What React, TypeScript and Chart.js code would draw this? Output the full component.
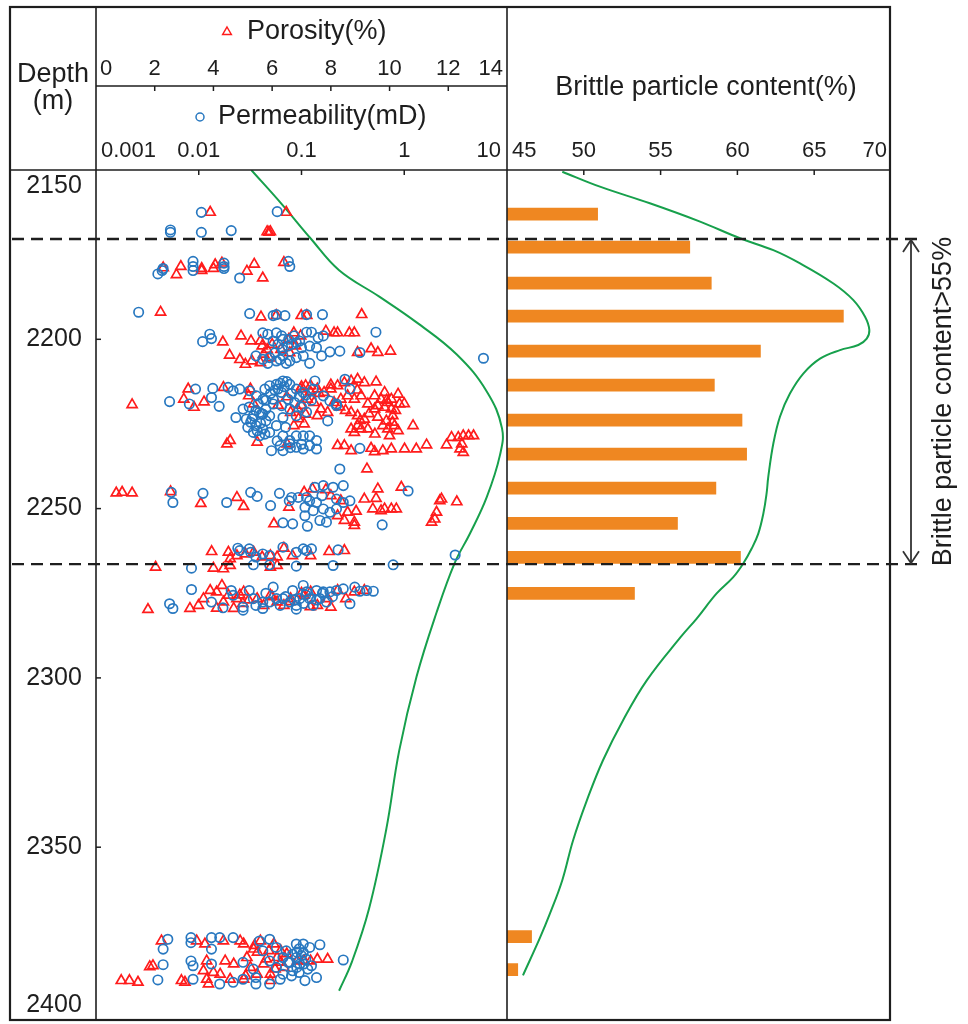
import React, { useEffect, useRef } from "react";
import { Chart, registerables } from "chart.js";

Chart.register(...registerables);

// ---------------- data ----------------
const depthTicks = [2150, 2200, 2250, 2300, 2350, 2400];
const porosityTicks = [0, 2, 4, 6, 8, 10, 12, 14];
const permeabilityTicks = [0.001, 0.01, 0.1, 1, 10];
const permeabilityTickLabels = ["0.001", "0.01", "0.1", "1", "10"];
const brittleTicks = [45, 50, 55, 60, 65, 70];

const brittleDepths = [2163, 2172.7, 2183.3, 2193, 2203.3, 2213.3, 2223.6, 2233.6, 2243.6, 2254, 2264, 2274.6, 2375.6, 2385.3];
const brittleValues = [50.9, 56.9, 58.3, 66.9, 61.5, 58.5, 60.3, 60.6, 58.6, 56.1, 60.2, 53.3, 46.6, 45.7];

const brittleTrendDepths = [2150.5, 2154.9, 2159.8, 2165.2, 2170.1, 2173.6, 2177.5, 2183.4, 2188.3, 2193.2, 2197.1, 2199.6, 2201.5, 2203, 2205.5, 2209.9, 2215.8, 2222.6, 2230.5, 2240.3, 2245.2, 2251.1, 2257, 2261.4, 2265.8, 2269.8, 2274.6, 2282, 2287.5, 2300.2, 2312, 2323.7, 2335.5, 2347.3, 2359, 2368.8, 2375.9, 2387];
const brittleTrendValues = [48.6, 51.05, 54.3, 57.57, 60.17, 62.34, 64.08, 66.25, 67.55, 68.31, 68.59, 68.42, 67.87, 66.68, 65.38, 64.29, 63.42, 62.77, 62.34, 62.01, 61.9, 61.69, 61.36, 60.93, 60.38, 59.73, 58.65, 57.35, 56.3, 54.1, 52.55, 51.25, 50.2, 49.3, 48.6, 47.8, 47.15, 46.04];

const porosityTrendDepths = [2150, 2160, 2170.3, 2179.6, 2187.4, 2195, 2204.5, 2215.4, 2226.3, 2234.2, 2246.6, 2257.5, 2266, 2280.7, 2299.6, 2321.4, 2344.6, 2368.2, 2383.8, 2392.4];
const porosityTrendValues = [5.29, 6.32, 7.32, 8.28, 9.65, 10.92, 12.29, 13.31, 13.83, 13.76, 13.31, 12.73, 12.22, 11.6, 10.92, 10.33, 9.89, 9.3, 8.72, 8.28];

const boundaryDepths = [2170.3, 2266];

// [depth (m), permeability (mD)]
const permeabilityPoints: [number, number][] = [
  [2162.5,0.0106],[2162.3,0.058],[2167.7,0.0053],[2168.4,0.0053],[2168.4,0.0106],[2167.9,0.0207],[2177.0,0.0088],[2178.5,0.0088],[2179.7,0.0088],[2179.1,0.0045],[2180.7,0.004],[2177.5,0.0176],[2178.5,0.0176],[2179.1,0.0176],[2181.9,0.025],[2177.0,0.0745],[2178.5,0.0769],[2179.7,0.0044],
  [2192.0,0.0026],[2192.4,0.0313],[2193.0,0.053],[2192.7,0.057],[2193.0,0.069],[2192.7,0.112],[2192.7,0.16],
  [2198.5,0.0128],[2200.7,0.0109],[2199.8,0.0133],[2198.1,0.042],[2198.5,0.047],[2198.1,0.057],[2199.0,0.064],[2200.5,0.053],[2201.5,0.059],[2200.0,0.066],[2202.0,0.074],[2201.0,0.089],[2200.5,0.096],[2197.9,0.112],[2197.9,0.125],[2199.5,0.145],[2199.0,0.163],[2202.0,0.12],[2202.5,0.14],[2203.7,0.189],[2203.5,0.236],[2203.9,0.37],[2197.9,0.53],
  [2204.9,0.036],[2205.9,0.042],[2205.4,0.049],[2206.4,0.057],[2204.9,0.066],[2206.4,0.077],[2205.4,0.089],[2204.9,0.104],[2207.1,0.12],[2204.9,0.157],[2207.1,0.047],[2207.1,0.071],
  [2205.6,5.9],
  [2218.4,0.0052],[2214.7,0.0093],[2214.5,0.0137],[2217.2,0.0133],[2219.8,0.0158],[2219.1,0.0081],[2214.2,0.0193],[2215.2,0.0216],[2214.7,0.025],[2215.2,0.0313],[2216.7,0.0364],[2217.7,0.0423],[2213.7,0.049],[2213.3,0.057],[2212.3,0.066],[2213.3,0.077],[2214.7,0.089],[2215.7,0.104],[2215.7,0.064],[2217.7,0.074],[2218.7,0.086],[2219.1,0.053],[2220.6,0.045],[2221.6,0.039],[2222.6,0.034],[2223.6,0.029],[2223.1,0.023],[2220.6,0.027],[2224.5,0.032],[2225.5,0.036],[2226.5,0.042],[2227.5,0.049],[2227.5,0.034],[2228.5,0.039],[2224.1,0.045],[2225.5,0.057],[2228.5,0.066],[2229.9,0.077],[2228.5,0.089],[2228.5,0.104],[2228.5,0.12],[2229.9,0.14],[2231.4,0.12],[2232.4,0.104],[2231.9,0.089],[2230.9,0.077],[2231.4,0.062],[2232.9,0.051],[2232.9,0.066],[2232.4,0.14],[2214.7,0.13],[2212.3,0.135],[2216.7,0.163],[2218.2,0.189],[2219.1,0.219],[2211.8,0.265],[2214.7,0.296],[2224.1,0.18],[2219.6,0.219],[2232.2,0.37],[2222.6,0.089],[2223.1,0.066],[2222.6,0.049],[2222.1,0.042],[2217.7,0.053],[2219.6,0.064],[2220.6,0.077],[2214.7,0.059],[2214.7,0.044],
  [2220.0,0.031],[2221.0,0.036],[2222.0,0.041],[2223.5,0.033],[2224.8,0.04],[2226.0,0.03],[2227.0,0.037],[2228.0,0.044],[2219.0,0.038],[2218.0,0.045],[2216.0,0.05],[2215.0,0.055],[2213.0,0.062],[2212.5,0.072],[2214.0,0.068],[2216.0,0.08],[2217.0,0.095],[2216.5,0.11],[2218.0,0.125],[2220.0,0.1],[2221.5,0.112],[2226.0,0.07],[2230.0,0.058],[2231.0,0.1],[2232.0,0.078],[2200.0,0.075],[2201.5,0.08],[2199.0,0.085],[2202.5,0.1],[2203.0,0.065],[2204.0,0.055],[2206.0,0.062],
  [2238.3,0.236],[2245.2,0.0054],[2248.2,0.0056],[2245.5,0.011],[2248.2,0.0187],[2245.2,0.032],[2246.4,0.037],[2249.1,0.05],[2245.5,0.061],[2254.2,0.066],[2246.7,0.08],[2247.7,0.076],[2246.7,0.093],[2246.7,0.112],[2243.7,0.135],[2243.2,0.163],[2243.7,0.203],[2243.2,0.255],[2247.7,0.12],[2248.2,0.14],[2250.1,0.163],[2251.1,0.189],[2250.1,0.219],[2249.6,0.108],[2250.6,0.13],[2253.5,0.151],[2254.0,0.175],[2255.2,0.114],[2254.5,0.082],[2252.1,0.108],[2247.2,0.219],[2248.2,0.255],[2247.7,0.296],[2254.8,0.61],[2244.8,1.09],[2246.2,0.158],
  [2261.7,0.024],[2262.4,0.025],[2261.9,0.031],[2262.9,0.032],[2264.3,0.036],[2263.4,0.042],[2263.9,0.049],[2261.4,0.066],[2262.9,0.089],[2261.9,0.104],[2262.4,0.112],[2261.9,0.125],[2262.2,0.227],[2266.6,0.78],[2263.7,3.13],[2267.6,0.0085],[2266.6,0.034],[2267.0,0.089],[2266.8,0.203],[2266.6,0.049],
  [2273.9,0.0085],[2277.6,0.0133],[2274.2,0.0207],[2275.6,0.0216],[2274.2,0.031],[2276.6,0.034],[2279.1,0.027],[2278.6,0.036],[2277.6,0.042],[2277.6,0.049],[2273.2,0.053],[2276.6,0.057],[2278.6,0.062],[2276.6,0.066],[2277.6,0.077],[2274.2,0.082],[2278.6,0.089],[2276.6,0.096],[2272.7,0.104],[2274.6,0.112],[2276.6,0.12],[2278.6,0.13],[2274.2,0.14],[2276.6,0.151],[2274.6,0.163],[2277.6,0.175],[2274.6,0.189],[2274.2,0.219],[2273.7,0.255],[2278.1,0.296],[2273.2,0.33],[2274.4,0.37],[2274.2,0.43],[2274.4,0.5],[2278.1,0.0052],[2279.5,0.0056],[2279.3,0.0172],[2280.0,0.027],[2279.5,0.042],[2279.7,0.089],
  [2275.0,0.045],[2276.0,0.07],[2277.0,0.085],[2275.5,0.11],[2277.0,0.14],[2278.0,0.105],[2275.0,0.16],[2276.0,0.2],
  [2377.2,0.005],[2380.1,0.0045],[2384.7,0.0045],[2389.2,0.004],[2376.7,0.0084],[2378.2,0.0084],[2383.6,0.0084],[2385.0,0.0088],[2389.0,0.0088],[2376.7,0.0133],[2380.1,0.0133],[2384.5,0.0133],[2376.7,0.016],[2376.7,0.0216],[2384.0,0.027],[2389.0,0.027],[2386.0,0.034],[2388.5,0.036],[2377.7,0.039],[2380.6,0.042],[2383.6,0.049],[2377.2,0.049],[2379.6,0.057],[2385.5,0.057],[2382.6,0.066],[2387.5,0.066],[2380.6,0.071],[2384.0,0.077],[2386.5,0.082],[2378.6,0.089],[2382.6,0.089],[2384.5,0.096],[2381.1,0.104],[2378.6,0.104],[2379.6,0.12],[2388.5,0.14],[2378.8,0.151],[2383.3,0.255],[2390.4,0.049],[2390.4,0.036],[2390.4,0.016],[2389.9,0.0216],[2389.0,0.062],[2389.4,0.108],[2384.0,0.074],[2381.6,0.082],
  [2381.0,0.09],[2382.0,0.1],[2383.0,0.11],[2384.5,0.105],[2385.5,0.09],[2386.0,0.115],[2387.0,0.095],[2380.0,0.095],[2385.0,0.125],[2388.0,0.08],
];

// [depth (m), porosity (%)]
const porosityPoints: [number, number][] = [
  [2162.5,3.89],[2162.5,6.48],[2168.2,5.83],[2168.4,5.89],[2168.2,5.94],[2178.5,2.89],[2180.9,2.74],[2179.1,3.6],[2179.7,3.6],[2179.1,4.0],[2178.0,4.06],[2177.5,4.29],[2177.8,5.39],[2179.9,5.14],[2181.9,5.68],[2177.3,6.4],[2178.9,2.29],
  [2192.0,2.2],[2193.4,5.62],[2193.0,6.14],[2193.0,6.99],[2193.0,7.18],[2192.7,9.05],
  [2199.0,4.94],[2200.8,4.32],[2200.5,5.28],[2204.7,4.55],[2207.4,5.09],[2206.4,5.31],[2206.9,5.6],[2202.0,5.66],[2203.0,5.83],[2198.1,6.74],[2200.0,6.57],[2199.0,6.97],[2197.6,7.83],[2198.1,8.11],[2198.1,8.23],[2198.1,8.63],[2198.1,8.8],[2202.8,9.37],[2203.9,9.6],[2203.5,10.03],[2203.9,8.91],[2204.4,5.71],
  [2200.5,5.6],[2201.5,6.0],[2203.0,6.3],[2205.5,5.9],[2202.0,6.8],[2204.0,6.6],[2206.0,4.9],
  [2219.3,1.23],[2214.7,3.14],[2220.1,3.34],[2217.7,2.99],[2218.5,3.68],[2214.2,4.34],[2216.7,5.2],[2219.1,5.37],[2214.7,5.26],[2214.7,6.97],[2213.7,7.14],[2213.7,7.31],[2214.7,7.54],[2215.7,7.77],[2214.7,8.0],[2213.7,8.23],[2212.8,8.46],[2212.3,8.69],[2211.8,8.91],[2212.8,9.14],[2212.6,9.54],
  [2217.7,7.2],[2218.7,7.43],[2220.6,7.66],[2221.6,7.89],[2222.6,7.54],[2218.7,8.11],[2217.7,8.34],[2216.7,8.57],[2217.7,8.8],[2216.7,9.03],[2219.1,9.26],[2216.7,9.49],[2217.7,9.71],[2215.7,9.83],[2218.7,9.94],[2217.7,10.06],[2216.2,10.29],[2219.1,10.34],[2219.6,9.6],[2220.1,9.83],[2220.6,10.06],[2222.6,10.11],[2221.6,8.69],[2222.6,8.91],[2223.6,9.14],[2225.5,8.91],[2226.5,8.69],[2226.5,9.03],[2227.5,8.8],[2226.5,9.26],[2220.6,9.49],[2225.5,9.77],[2226.5,9.94],[2225.5,10.17],[2227.0,10.29],[2225.5,10.8],[2224.1,9.89],
  [2214.0,7.0],[2215.5,7.3],[2216.0,7.6],[2219.5,7.0],[2220.0,8.3],[2221.0,8.5],[2222.0,9.3],[2223.0,9.6],[2224.0,9.0],[2218.0,9.9],[2219.0,10.5],[2221.0,10.2],[2215.0,8.9],[2213.5,8.0],[2224.5,10.1],[2228.0,9.5],[2228.5,10.0],[2217.0,6.5],[2219.5,6.2],[2223.5,6.9],
  [2221.6,6.63],[2220.6,6.86],[2222.1,7.14],[2225.0,7.09],[2225.5,6.74],[2230.4,5.49],[2230.9,4.46],[2229.9,4.57],[2230.9,6.51],[2231.4,8.23],[2231.4,8.46],[2232.9,8.69],[2232.2,9.37],[2233.2,9.49],[2232.9,9.77],[2232.4,10.06],[2232.4,10.51],[2232.4,10.91],[2231.2,11.26],[2231.2,11.94],[2229.0,12.11],[2229.0,12.34],[2228.5,12.51],[2228.5,12.69],[2228.5,12.86],[2232.4,12.4],[2233.4,12.51],[2230.9,12.46],
  [2238.3,9.23],[2245.4,0.69],[2245.2,0.89],[2245.4,1.23],[2245.0,2.54],[2248.5,3.57],[2246.7,4.8],[2249.4,5.03],[2254.5,6.06],[2249.6,6.57],[2245.2,7.09],[2244.2,7.37],[2244.4,7.83],[2246.2,8.0],[2247.7,8.34],[2253.5,8.46],[2255.0,8.8],[2254.0,8.8],[2252.1,8.23],[2251.1,8.57],[2250.8,8.86],[2247.2,9.14],[2250.1,9.43],[2247.0,9.54],[2244.2,9.6],[2250.6,9.71],[2250.1,9.83],[2250.1,10.06],[2250.1,10.23],[2243.7,10.4],[2254.0,11.43],[2253.1,11.54],[2251.1,11.6],[2247.7,11.71],[2247.2,11.77],[2248.0,12.29],
  [2262.7,3.94],[2262.9,4.51],[2264.8,4.57],[2263.9,4.8],[2263.4,5.09],[2262.9,5.37],[2264.3,5.66],[2263.9,5.94],[2264.3,6.17],[2261.7,6.4],[2263.9,6.69],[2263.9,7.31],[2262.7,7.94],[2262.4,8.46],[2267.3,2.03],[2267.6,4.0],[2267.8,4.34],[2266.8,4.57],[2267.3,5.94],[2266.8,6.17],
  [2279.8,1.77],[2279.5,3.2],[2278.6,3.49],[2276.6,3.66],[2274.2,3.89],[2274.6,4.11],[2272.7,4.29],[2277.6,4.34],[2275.6,4.51],[2279.4,4.11],[2279.5,4.69],[2276.6,4.8],[2274.6,5.03],[2276.6,5.49],[2278.6,5.71],[2275.6,5.94],[2277.6,6.17],[2278.6,6.4],[2276.6,6.63],[2275.6,7.09],[2274.6,7.31],[2278.6,7.54],[2276.6,7.89],[2279.1,8.0],[2274.2,8.23],[2276.6,8.51],[2274.6,8.8],[2274.2,9.14],
  [2275.5,4.9],[2277.0,5.2],[2278.0,5.0],[2276.0,6.0],[2277.5,6.6],[2275.0,7.0],[2279.0,7.3],
  [2377.7,2.23],[2385.3,1.83],[2385.0,1.94],[2389.4,0.86],[2389.4,1.14],[2389.9,1.43],[2389.4,2.91],[2389.9,3.03],[2377.7,3.43],[2378.6,3.71],[2383.6,3.77],[2386.5,3.66],[2389.0,3.77],[2390.4,3.83],[2387.0,4.0],[2387.5,4.23],[2377.7,4.34],[2383.6,4.4],[2389.0,4.57],[2384.5,4.69],[2377.7,4.91],[2378.6,5.03],[2382.6,5.14],[2385.5,5.26],[2387.5,5.49],[2377.7,5.6],[2384.5,5.71],[2380.6,5.89],[2387.5,5.94],[2378.6,6.06],[2382.6,6.17],[2380.6,6.29],[2385.5,6.4],[2389.4,5.94],[2389.0,5.03],[2383.6,6.86],[2383.6,7.09],[2383.6,7.31],[2383.1,7.54],[2383.1,7.89],[2380.1,5.37],
  [2381.0,5.5],[2383.0,5.8],[2386.0,6.1],[2384.0,6.3],[2381.5,6.5],[2379.0,5.4],[2388.0,5.1],
];

// ---------------- layout & style ----------------
const W = 968;
const H = 1024;
const FRAME = { left: 10, top: 7, right: 890, bottom: 1020 };
const DEPTH_COL_RIGHT = 96;
const PANEL_SPLIT = 507;
const RIGHT_PANEL_RIGHT = 891;
const PLOT_TOP = 170;
const PLOT_BOTTOM = 1019.5;
const HEADER_SPLIT_Y = 86;

const INK = "#1e1e1e";
const RED = "#ff1c1c";
const BLUE = "#2878c0";
const GREEN = "#17a04c";
const ORANGE = "#ef8721";
const FONT = "'Liberation Sans', Arial, Helvetica, sans-serif";
const TITLE_FONT = `27px ${FONT}`;
const TICK_FONT = `22px ${FONT}`;
const DEPTH_FONT = `25px ${FONT}`;

function seg(ctx: CanvasRenderingContext2D, x1: number, y1: number, x2: number, y2: number) {
  ctx.beginPath();
  ctx.moveTo(x1, y1);
  ctx.lineTo(x2, y2);
  ctx.stroke();
}

function clampedLabel(ctx: CanvasRenderingContext2D, text: string, cx: number, cy: number, lo: number, hi: number) {
  const w = ctx.measureText(text).width;
  const x = Math.min(Math.max(cx, lo + w / 2), hi - w / 2);
  ctx.textAlign = "center";
  ctx.fillText(text, x, cy);
}

const leftDecor = {
  id: "leftDecor",
  afterDraw(chart: any) {
    const { ctx, chartArea: a, scales } = chart;
    const xPor = scales.xPor;
    const xPerm = scales.xPerm;
    const y = scales.y;
    ctx.save();
    ctx.strokeStyle = INK;
    ctx.fillStyle = INK;
    ctx.lineWidth = 1.5;
    seg(ctx, a.left, HEADER_SPLIT_Y, a.right, HEADER_SPLIT_Y);

    ctx.textBaseline = "middle";
    ctx.font = TICK_FONT;
    porosityTicks.forEach((v) => {
      const px = xPor.getPixelForValue(v);
      if (px > a.left + 4 && px < a.right - 4) seg(ctx, px, HEADER_SPLIT_Y, px, HEADER_SPLIT_Y + 5);
      clampedLabel(ctx, String(v), px, 69, a.left + 4, a.right - 4);
    });
    permeabilityTicks.forEach((v, i) => {
      const px = xPerm.getPixelForValue(v);
      if (px > a.left + 4 && px < a.right - 4) seg(ctx, px, a.top, px, a.top + 5);
      clampedLabel(ctx, permeabilityTickLabels[i], px, 151, a.left + 5, a.right - 6);
    });
    ctx.font = DEPTH_FONT;
    depthTicks.forEach((v) => {
      const py = y.getPixelForValue(v);
      if (py > a.top + 4 && py < a.bottom - 4) seg(ctx, a.left, py, a.left + 5, py);
      const cy = Math.min(Math.max(py, a.top + 16), a.bottom - 11);
      ctx.textAlign = "center";
      ctx.fillText(String(v), 54, cy);
    });

    ctx.font = TITLE_FONT;
    ctx.textAlign = "center";
    ctx.fillText("Depth", 53, 75);
    ctx.fillText("(m)", 53, 102);
    ctx.textAlign = "left";
    ctx.fillText("Porosity(%)", 247, 32);
    ctx.fillText("Permeability(mD)", 218, 117);

    ctx.lineWidth = 1.5;
    ctx.strokeStyle = RED;
    ctx.beginPath();
    const tx = 227, ty = 32, tr = 5;
    ctx.moveTo(tx, ty - tr);
    ctx.lineTo(tx + tr * 0.866, ty + tr * 0.5);
    ctx.lineTo(tx - tr * 0.866, ty + tr * 0.5);
    ctx.closePath();
    ctx.stroke();
    ctx.strokeStyle = BLUE;
    ctx.beginPath();
    ctx.arc(200, 117, 4, 0, Math.PI * 2);
    ctx.stroke();
    ctx.restore();
  },
};

const rightDecor = {
  id: "rightDecor",
  afterDraw(chart: any) {
    const { ctx, chartArea: a, scales } = chart;
    const x = scales.x;
    const y = scales.y;
    ctx.save();
    ctx.strokeStyle = INK;
    ctx.fillStyle = INK;
    ctx.textBaseline = "middle";

    ctx.lineWidth = 1.5;
    ctx.font = TICK_FONT;
    brittleTicks.forEach((v) => {
      const px = x.getPixelForValue(v);
      if (px > a.left + 4 && px < a.right - 4) seg(ctx, px, a.top, px, a.top + 5);
      clampedLabel(ctx, String(v), px, 151, a.left + 5, a.right - 4);
    });
    ctx.font = TITLE_FONT;
    ctx.textAlign = "center";
    ctx.fillText("Brittle particle content(%)", 706, 88);

    ctx.lineWidth = 1.6;
    seg(ctx, FRAME.left, PLOT_TOP, FRAME.right, PLOT_TOP);
    seg(ctx, DEPTH_COL_RIGHT, FRAME.top, DEPTH_COL_RIGHT, FRAME.bottom);
    seg(ctx, PANEL_SPLIT, FRAME.top, PANEL_SPLIT, FRAME.bottom);
    ctx.lineWidth = 2.2;
    ctx.strokeRect(FRAME.left, FRAME.top, FRAME.right - FRAME.left, FRAME.bottom - FRAME.top);

    ctx.lineWidth = 2.4;
    ctx.setLineDash([12, 7]);
    boundaryDepths.forEach((d) => {
      const py = y.getPixelForValue(d);
      seg(ctx, 12, py, 918, py);
    });
    ctx.setLineDash([]);

    const ax = 911;
    const y1 = y.getPixelForValue(boundaryDepths[0]);
    const y2 = y.getPixelForValue(boundaryDepths[1]);
    ctx.lineWidth = 1.8;
    ctx.strokeStyle = "#333";
    seg(ctx, ax, y1 + 1, ax, y2 - 1);
    ctx.beginPath();
    ctx.moveTo(ax - 8, y1 + 13);
    ctx.lineTo(ax, y1 + 1);
    ctx.lineTo(ax + 8, y1 + 13);
    ctx.stroke();
    ctx.beginPath();
    ctx.moveTo(ax - 8, y2 - 13);
    ctx.lineTo(ax, y2 - 1);
    ctx.lineTo(ax + 8, y2 - 13);
    ctx.stroke();

    ctx.save();
    ctx.translate(944, (y1 + y2) / 2);
    ctx.rotate(-Math.PI / 2);
    ctx.font = TITLE_FONT;
    ctx.fillStyle = INK;
    ctx.textAlign = "center";
    ctx.textBaseline = "middle";
    ctx.fillText("Brittle particle content>55%", 0, 0);
    ctx.restore();

    ctx.restore();
  },
};

export default function App() {
  const leftRef = useRef<HTMLCanvasElement>(null);
  const rightRef = useRef<HTMLCanvasElement>(null);

  useEffect(() => {
    const depthScale = {
      type: "linear" as const,
      min: 2150,
      max: 2400,
      reverse: true,
      display: false,
      offset: false,
    };

    const left = new Chart(leftRef.current!, {
      type: "scatter",
      data: {
        datasets: [
          {
            type: "scatter",
            label: "Permeability(mD)",
            data: permeabilityPoints.map(([d, k]) => ({ x: k, y: d })),
            xAxisID: "xPerm",
            yAxisID: "y",
            pointStyle: "circle",
            pointRadius: 4.7,
            pointBorderWidth: 1.7,
            pointBorderColor: BLUE,
            pointBackgroundColor: "rgba(0,0,0,0)",
          } as any,
          {
            type: "scatter",
            label: "Porosity(%)",
            data: porosityPoints.map(([d, p]) => ({ x: p, y: d })),
            xAxisID: "xPor",
            yAxisID: "y",
            pointStyle: "triangle",
            pointRadius: 5.8,
            pointBorderWidth: 1.7,
            pointBorderColor: RED,
            pointBackgroundColor: "rgba(0,0,0,0)",
          } as any,
          {
            type: "line",
            label: "trend",
            indexAxis: "y",
            data: porosityTrendDepths.map((d, i) => ({ x: porosityTrendValues[i], y: d })),
            xAxisID: "xPor",
            yAxisID: "y",
            borderColor: GREEN,
            borderWidth: 2,
            pointRadius: 0,
            tension: 0.4,
            fill: false,
          } as any,
        ],
      },
      options: {
        responsive: false,
        animation: false,
        devicePixelRatio: 1,
        events: [],
        layout: { padding: { left: DEPTH_COL_RIGHT, right: W - PANEL_SPLIT, top: PLOT_TOP, bottom: H - PLOT_BOTTOM } },
        plugins: { legend: { display: false }, tooltip: { enabled: false } },
        scales: {
          xPor: { type: "linear", position: "top", min: 0, max: 14, display: false },
          xPerm: { type: "logarithmic", position: "top", min: 0.001, max: 10, display: false },
          y: depthScale,
        },
      } as any,
      plugins: [leftDecor],
    });

    const right = new Chart(rightRef.current!, {
      type: "bar",
      data: {
        datasets: [
          {
            type: "line",
            label: "trend",
            indexAxis: "y",
            data: brittleTrendDepths.map((d, i) => ({ x: brittleTrendValues[i], y: d })),
            xAxisID: "x",
            yAxisID: "y",
            borderColor: GREEN,
            borderWidth: 2,
            pointRadius: 0,
            tension: 0.4,
            fill: false,
          } as any,
          {
            type: "bar",
            label: "Brittle particle content(%)",
            data: brittleDepths.map((d, i) => ({ x: brittleValues[i], y: d })),
            xAxisID: "x",
            yAxisID: "y",
            backgroundColor: ORANGE,
            borderWidth: 0,
            barThickness: 12,
            base: 45,
          } as any,
        ],
      },
      options: {
        indexAxis: "y",
        responsive: false,
        animation: false,
        devicePixelRatio: 1,
        events: [],
        layout: { padding: { left: PANEL_SPLIT, right: W - RIGHT_PANEL_RIGHT, top: PLOT_TOP, bottom: H - PLOT_BOTTOM } },
        plugins: { legend: { display: false }, tooltip: { enabled: false } },
        scales: {
          x: { type: "linear", min: 45, max: 70, display: false },
          y: depthScale,
        },
      } as any,
      plugins: [rightDecor],
    });

    return () => {
      left.destroy();
      right.destroy();
    };
  }, []);

  return (
    <div style={{ position: "absolute", left: 0, top: 0, width: W, height: H, background: "#ffffff" }}>
      <canvas ref={leftRef} width={W} height={H} style={{ position: "absolute", left: 0, top: 0, width: W, height: H }} />
      <canvas ref={rightRef} width={W} height={H} style={{ position: "absolute", left: 0, top: 0, width: W, height: H }} />
    </div>
  );
}
